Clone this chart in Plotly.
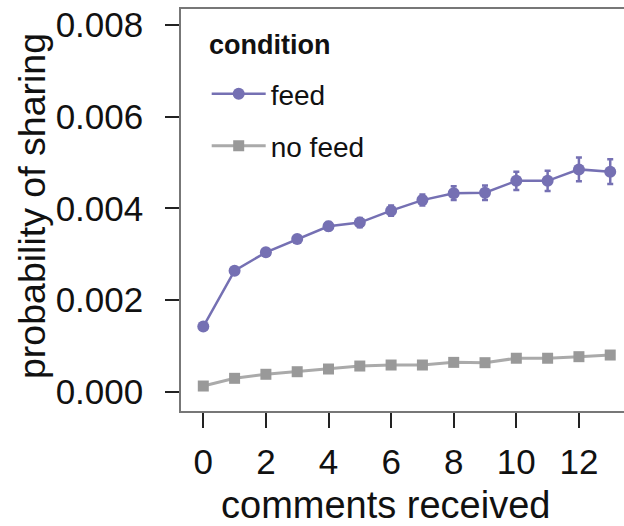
import plotly.graph_objects as go

comments = list(range(14))
feed = [0.00142, 0.00264, 0.00304, 0.00333, 0.00361, 0.00369, 0.00395,
        0.00418, 0.00433, 0.00434, 0.00460, 0.00460, 0.00485, 0.00480]
feed_err = [0.00004, 0.00006, 0.00007, 0.00008, 0.00009, 0.00010, 0.00011,
            0.00012, 0.00015, 0.00016, 0.00020, 0.00022, 0.00026, 0.00027]
no_feed = [0.000124, 0.000292, 0.00038, 0.000436, 0.000495, 0.00056, 0.000582,
           0.000582, 0.00064, 0.000633, 0.00073, 0.00073, 0.000764, 0.0008]
no_feed_err = [0.00001] * 14

PURPLE = "#7570B3"
GRAY = "#999999"
FONT = "Liberation Sans, Arial, sans-serif"

fig = go.Figure()
fig.add_trace(go.Scatter(
    x=comments, y=feed, name="feed", mode="lines+markers", legend="legend",
    line=dict(color=PURPLE, width=2.5),
    marker=dict(symbol="circle", size=12, color=PURPLE),
    error_y=dict(type="data", array=feed_err, color=PURPLE, thickness=2.5, width=3),
))
fig.add_trace(go.Scatter(
    x=comments, y=no_feed, name="no feed", mode="lines+markers", legend="legend2",
    line=dict(color="#AAAAAA", width=3),
    marker=dict(symbol="square", size=11, color=GRAY),
    error_y=dict(type="data", array=no_feed_err, color=GRAY, thickness=2, width=2),
))

legend_style = dict(xanchor="left", yanchor="middle", font=dict(size=28),
                    bgcolor="rgba(0,0,0,0)", itemwidth=54)

fig.update_layout(
    width=624, height=526, showlegend=True,
    margin=dict(l=181, r=0, t=9, b=115, autoexpand=False),
    plot_bgcolor="white", paper_bgcolor="white",
    font=dict(family=FONT, color="#111111", size=35),
    legend=dict(x=0.058, y=(411 - 94) / 402, **legend_style),
    legend2=dict(x=0.058, y=(411 - 146) / 402, **legend_style),
    xaxis=dict(
        range=[-0.712, 13.44], tickvals=list(range(0, 14, 2)),
        showgrid=False, zeroline=False, automargin=False,
        showline=True, linecolor="#777777", linewidth=1.5, mirror=True,
        ticks="outside", ticklen=15, tickwidth=1.5, tickcolor="#222222",
        ticklabelstandoff=4,
    ),
    yaxis=dict(
        range=[-0.000421, 0.008349], tickvals=[0, 0.002, 0.004, 0.006, 0.008],
        tickformat=".3f",
        showgrid=False, zeroline=False, automargin=False,
        showline=True, linecolor="#777777", linewidth=1.5,
        ticks="outside", ticklen=14, tickwidth=1.5, tickcolor="#222222",
        ticklabelstandoff=15,
    ),
    annotations=[
        dict(text="comments received", xref="paper", yref="paper",
             x=(385 - 181) / 443, y=-(505 - 411) / 402, showarrow=False,
             xanchor="center", yanchor="middle", font=dict(size=38)),
        dict(text="probability of sharing", xref="paper", yref="paper",
             x=-(181 - 32) / 443, y=(411 - 206) / 402, showarrow=False,
             textangle=-90, xanchor="center", yanchor="middle", font=dict(size=37.5)),
        dict(text="<b>condition</b>", xref="paper", yref="paper",
             x=(207 - 181) / 443, y=(411 - 45) / 402, showarrow=False,
             xanchor="left", yanchor="middle", font=dict(size=27)),
    ],
)

# the page body has a default 8px margin, drop it so the figure sits at 0,0
fig.write_html("out.html", config={"displayModeBar": False},
               post_script="document.body.style.margin='0';")
